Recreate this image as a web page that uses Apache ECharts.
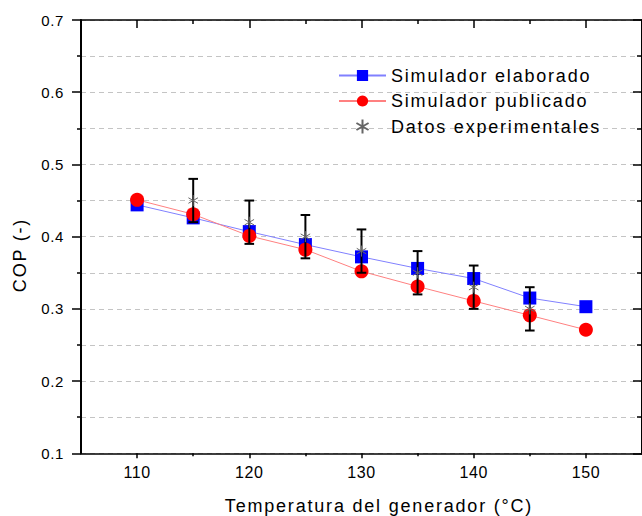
<!DOCTYPE html>
<html>
<head>
<meta charset="utf-8">
<script src="https://cdn.jsdelivr.net/npm/echarts@6/dist/echarts.min.js"></script>
<style>
  html, body { margin: 0; padding: 0; background: #ffffff; }
  #chart { width: 642px; height: 516px; }
  svg text { letter-spacing: 0.6px; }
  svg text[style*="18px"] { letter-spacing: 1.8px; }
</style>
</head>
<body>
<div id="chart"></div>
<script>
// ---- data ----
const temps = [110, 115, 120, 125, 130, 135, 140, 145, 150];
const simElaborado = [0.444, 0.426, 0.407, 0.389, 0.372, 0.356, 0.342, 0.315, 0.303];
const simPublicado = [0.451, 0.431, 0.401, 0.382, 0.352, 0.331, 0.311, 0.291, 0.271];
const expTemps = [115, 120, 125, 130, 135, 140, 145];
const expValues = [0.45, 0.42, 0.40, 0.38, 0.35, 0.33, 0.30];
const expLow = [0.42, 0.39, 0.37, 0.35, 0.32, 0.30, 0.27];
const expHigh = [0.48, 0.45, 0.43, 0.41, 0.38, 0.36, 0.33];
const xMajorTicks = [110, 120, 130, 140, 150];
const xMinorTicks = [115, 125, 135, 145];
const seriesNames = ['Simulador elaborado', 'Simulador publicado', 'Datos experimentales'];
const xTitle = 'Temperatura del generador (°C)';
const yTitle = 'COP (-)';

const FONT = 'Liberation Sans, Arial, sans-serif';
const chart = echarts.init(document.getElementById('chart'), null, { renderer: 'svg' });

const asterisk = 'path://M0,-10L0,10M-8.66,-5L8.66,5M-8.66,5L8.66,-5';
const dashed = { color: '#c4c4c4', width: 1, type: [5, 4] };

const option = {
  backgroundColor: '#ffffff',
  animation: false,
  grid: { left: 81, top: 20, width: 563.5, height: 433.3 },
  legend: {
    data: seriesNames,
    orient: 'vertical',
    left: 333,
    top: 61.5,
    itemWidth: 47,
    itemHeight: 14,
    itemGap: 7.5,
    textStyle: { fontSize: 18, fontFamily: FONT, color: '#000' }
  },
  xAxis: [
    {
      type: 'value', min: 105, max: 155, position: 'bottom',
      axisLine: { show: true, onZero: false, lineStyle: { color: '#000', width: 1.5 } },
      axisTick: { show: true, inside: false, length: 5, customValues: xMajorTicks, lineStyle: { color: '#000', width: 1.5 } },
      axisLabel: { customValues: xMajorTicks, fontSize: 16, fontFamily: FONT, color: '#000', margin: 11 },
      splitLine: { show: false }
    },
    {
      type: 'value', min: 105, max: 155, position: 'bottom',
      axisLine: { show: false },
      axisTick: { show: true, inside: false, length: 3, customValues: xMinorTicks, lineStyle: { color: '#000', width: 1.5 } },
      axisLabel: { show: false },
      splitLine: { show: false }
    },
    {
      type: 'value', min: 105, max: 155, position: 'top',
      axisLine: { show: true, onZero: false, lineStyle: { color: '#000', width: 1.5 } },
      axisTick: { show: true, inside: true, length: 8, customValues: xMajorTicks, lineStyle: { color: '#000', width: 1.5 } },
      axisLabel: { show: false },
      splitLine: { show: false }
    },
    {
      type: 'value', min: 105, max: 155, position: 'top',
      axisLine: { show: false },
      axisTick: { show: true, inside: true, length: 4, customValues: xMinorTicks, lineStyle: { color: '#000', width: 1.5 } },
      axisLabel: { show: false },
      splitLine: { show: false }
    }
  ],
  yAxis: [
    {
      type: 'value', min: 0.1, max: 0.7, interval: 0.1, position: 'left',
      axisLine: { show: true, onZero: false, lineStyle: { color: '#000', width: 2 } },
      axisTick: { show: true, inside: false, length: 9, lineStyle: { color: '#000', width: 1.5 } },
      minorTick: { show: true, splitNumber: 2, length: 4, lineStyle: { color: '#000', width: 1.5 } },
      axisLabel: { fontSize: 15, fontFamily: FONT, color: '#000', margin: 17, formatter: v => v.toFixed(1) },
      splitLine: { show: true, lineStyle: dashed },
      minorSplitLine: { show: true, lineStyle: dashed }
    },
    {
      type: 'value', min: 0.1, max: 0.7, interval: 0.1, position: 'right',
      axisLine: { show: true, onZero: false, lineStyle: { color: '#000', width: 2 } },
      axisTick: { show: true, inside: true, length: 9, lineStyle: { color: '#000', width: 1.5 } },
      minorTick: { show: true, splitNumber: 2, length: 5, lineStyle: { color: '#000', width: 1.5 } },
      axisLabel: { show: false },
      splitLine: { show: false }
    }
  ],
  graphic: [
    {
      type: 'text', x: 379, y: 506,
      style: { text: xTitle, fontSize: 18, fontFamily: FONT, fill: '#000', align: 'center', verticalAlign: 'middle' }
    },
    {
      type: 'text', x: 20, y: 255, rotation: Math.PI / 2,
      style: { text: yTitle, fontSize: 18, fontFamily: FONT, fill: '#000', align: 'center', verticalAlign: 'middle' }
    }
  ],
  series: [
    {
      name: seriesNames[0], type: 'line', z: 2,
      data: temps.map((t, i) => [t, simElaborado[i]]),
      symbol: 'rect', symbolSize: 13,
      itemStyle: { color: '#0000ff' },
      lineStyle: { color: '#8080ff', width: 1 }
    },
    {
      name: seriesNames[1], type: 'line', z: 3,
      data: temps.map((t, i) => [t, simPublicado[i]]),
      symbol: 'circle', symbolSize: 14,
      itemStyle: { color: '#ff0000' },
      lineStyle: { color: '#ff8080', width: 1 }
    },
    {
      name: 'errorbars', type: 'custom', z: 4,
      data: expTemps.map((t, i) => [t, expLow[i], expHigh[i]]),
      encode: { x: 0, y: [1, 2] },
      renderItem: function (params, api) {
        const lo = api.coord([api.value(0), api.value(1)]);
        const hi = api.coord([api.value(0), api.value(2)]);
        const w = 4.8;
        const st = { stroke: '#000', lineWidth: 2 };
        return {
          type: 'group',
          children: [
            { type: 'line', shape: { x1: lo[0], y1: lo[1], x2: hi[0], y2: hi[1] }, style: st },
            { type: 'line', shape: { x1: lo[0] - w, y1: lo[1], x2: lo[0] + w, y2: lo[1] }, style: st },
            { type: 'line', shape: { x1: hi[0] - w, y1: hi[1], x2: hi[0] + w, y2: hi[1] }, style: st }
          ]
        };
      }
    },
    {
      name: seriesNames[2], type: 'scatter', z: 5,
      data: expTemps.map((t, i) => [t, expValues[i]]),
      symbol: asterisk, symbolSize: 11, symbolKeepAspect: true,
      itemStyle: { color: 'rgba(0,0,0,0)', borderColor: '#666666', borderWidth: 1, opacity: 1 }
    }
  ]
};
chart.setOption(option);
</script>
</body>
</html>
